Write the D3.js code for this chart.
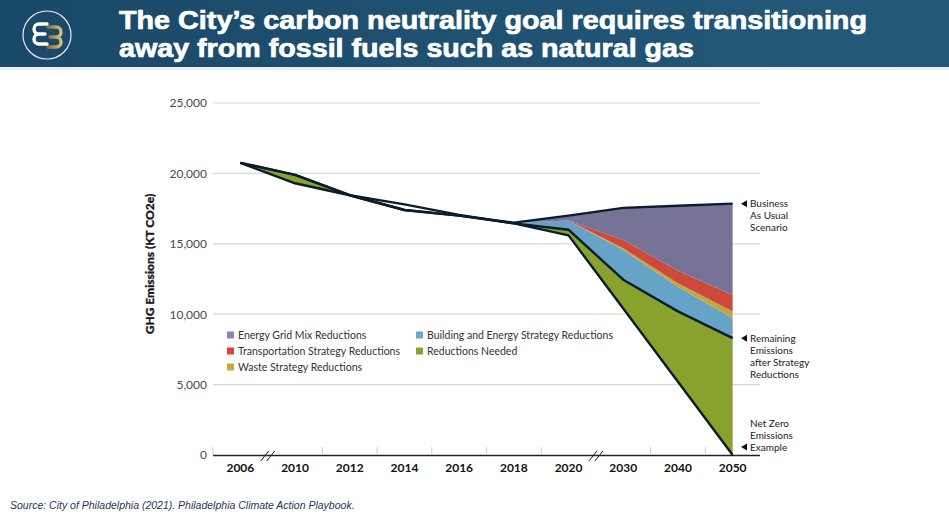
<!DOCTYPE html>
<html><head><meta charset="utf-8">
<script src="https://cdn.jsdelivr.net/npm/d3@7"></script>
<style>
html,body{margin:0;padding:0;background:#fff;}
svg{display:block;}
</style></head>
<body>
<svg id="chart" width="949" height="514"></svg>
<script>
// ---- data ----
const years = ["2006","2010","2012","2014","2016","2018","2020","2030","2040","2050"];
const remaining    = [20750, 19900, 18450, 17400, 17000, 16450, 16000, 12450, 10200, 8300];
const netZero      = [20750, 19300, 18450, 17800, 17050, 16450, 15600, 10400, 5200, 0];
const buildingRed  = [0, 0, 0, 0, 0, 50, 650, 2110, 1750, 1430];
const wasteRed     = [0, 0, 0, 0, 0, 0, 0, 120, 240, 460];
const transportRed = [0, 0, 0, 0, 0, 0, 0, 590, 900, 1180];
const gridRed      = [0, 0, 0, 0, 0, 0, 350, 2280, 4610, 6480];
const yTicks = [0, 5000, 10000, 15000, 20000, 25000];
const breakAfter = ["2006", "2020"];

const legendItems = [
  {label:"Energy Grid Mix Reductions", key:"grid"},
  {label:"Transportation Strategy Reductions", key:"transport"},
  {label:"Waste Strategy Reductions", key:"waste"},
  {label:"Building and Energy Strategy Reductions", key:"building"},
  {label:"Reductions Needed", key:"needed"}
];
const annotations = [
  {lines:["Business","As Usual","Scenario"], key:"bau"},
  {lines:["Remaining","Emissions","after Strategy","Reductions"], key:"rem"},
  {lines:["Net Zero","Emissions","Example"], key:"net", anchorLast:true}
];
const titleLines = ["The City\u2019s carbon neutrality goal requires transitioning","away from fossil fuels such as natural gas"];
const sourceText = "Source: City of Philadelphia (2021). Philadelphia Climate Action Playbook.";

const fillColors = {grid:"#767397", transport:"#cd4a3b", waste:"#c0a83c", building:"#66a3c6", needed:"#88a22e"};
const legendColors = {grid:"#8a86b9", transport:"#d8453a", waste:"#c6ab35", building:"#6ea6cf", needed:"#88a32c"};
const lineColor = "#0c1c2b";

// ---- table ----
const table = years.map((y,i)=>({year:y, remaining:remaining[i], building:buildingRed[i], waste:wasteRed[i], transport:transportRed[i], grid:gridRed[i], net:netZero[i]}));

const svg = d3.select("#chart");
const defs = svg.append("defs");

// ---- header ----
const grad = defs.append("linearGradient").attr("id","hdr").attr("x1","0").attr("x2","1");
grad.append("stop").attr("offset","0").attr("stop-color","#1a4868");
grad.append("stop").attr("offset","1").attr("stop-color","#245a7a");
svg.append("rect").attr("x",0).attr("y",0).attr("width",949).attr("height",67).attr("fill","url(#hdr)");
svg.append("rect").attr("x",0).attr("y",67).attr("width",949).attr("height",3).attr("fill","#e9eef1");

// logo
const logo = svg.append("g").attr("transform","translate(47,35)");
logo.append("circle").attr("r",24).attr("fill","none").attr("stroke","#e8ecef").attr("stroke-width",1.2);
const gg = defs.append("linearGradient").attr("id","gold").attr("x1","0").attr("x2","1");
gg.append("stop").attr("offset","0").attr("stop-color","#8a7238");
gg.append("stop").attr("offset","1").attr("stop-color","#d9bd7a");
logo.append("path").attr("d","M-3,-10 H5 A5,5 0 0 1 5,0 A5,5 0 0 1 5,10 H-3 M-1,0 H5")
  .attr("fill","none").attr("stroke","url(#gold)").attr("stroke-width",3.4).attr("stroke-linecap","round").attr("transform","translate(4,2)");
logo.append("path").attr("d","M4,-10 H-4 A5,5 0 0 0 -4,0 A5,5 0 0 0 -4,10 H4 M-4,0 H2")
  .attr("fill","none").attr("stroke","#ffffff").attr("stroke-width",3.4).attr("stroke-linecap","round").attr("transform","translate(-4,-1)");

// title
const titleG = svg.append("g");
const titleWidths = [748, 575];
titleLines.forEach((t,i)=>{
  titleG.append("text").attr("x",119).attr("y",29+i*28)
    .attr("font-family","'Liberation Sans',Arial,sans-serif")
    .attr("font-weight","bold").attr("font-size",26).attr("fill","#ffffff")
    .attr("stroke","#ffffff").attr("stroke-width",0.7)
    .attr("textLength",titleWidths[i]).attr("lengthAdjust","spacingAndGlyphs")
    .text(t);
});

// ---- scales ----
const x = d3.scaleBand().domain(years).range([213,760]).padding(0);
const xc = d => x(d) + x.bandwidth()/2;
const y = d3.scaleLinear().domain([0,25000]).range([455,103]);

const font = "Lato, 'Open Sans', sans-serif";

// gridlines
svg.append("g").selectAll("line").data(yTicks.filter(v=>v>0)).join("line")
  .attr("x1",213).attr("x2",760).attr("y1",d=>y(d)).attr("y2",d=>y(d))
  .attr("stroke","#d9d9d9").attr("stroke-width",1.2);

// y axis labels via d3 axis
const yAxis = svg.append("g").attr("transform","translate(207,0)")
  .call(d3.axisLeft(y).tickValues(yTicks).tickFormat(d3.format(",")).tickSize(0).tickPadding(0));
yAxis.select(".domain").remove();
yAxis.selectAll("text").attr("font-family",font).attr("font-size",12).attr("fill","#4a4a4a");

svg.append("text").attr("transform","translate(154,264) rotate(-90)").attr("text-anchor","middle")
  .attr("font-family",font).attr("font-weight",900).attr("font-size",12).attr("fill","#1a1a1a")
  .attr("stroke","#1a1a1a").attr("stroke-width",0.3)
  .text("GHG Emissions (KT CO2e)");

// ---- stacked areas ----
const stack = d3.stack().keys(["remaining","building","waste","transport","grid"]);
const layers = stack(table);

const area = d3.area().x(d=>xc(d.data.year)).y0(d=>y(d[0])).y1(d=>y(d[1]));
svg.append("g").selectAll("path").data(layers.slice(1)).join("path")
  .attr("d",area).attr("fill",d=>fillColors[d.key]);

// reductions needed
const needArea = d3.area().x(d=>xc(d.year)).y0(d=>y(Math.min(d.net,d.remaining))).y1(d=>y(d.remaining));
svg.append("path").datum(table).attr("d",needArea).attr("fill",fillColors.needed);

// lines
const bauLine = d3.line().x(d=>xc(d.data.year)).y(d=>y(d[1]));
const lineG = svg.append("g").attr("fill","none").attr("stroke",lineColor).attr("stroke-width",2.4).attr("stroke-linejoin","round");
lineG.append("path").datum(table).attr("d",d3.line().x(d=>xc(d.year)).y(d=>y(d.net)));
lineG.append("path").datum(table).attr("d",d3.line().x(d=>xc(d.year)).y(d=>y(d.remaining)));
lineG.append("path").datum(layers[layers.length-1]).attr("d",bauLine);

// ---- x axis ----
const xAxisG = svg.append("g");
xAxisG.append("line").attr("x1",213).attr("x2",760).attr("y1",455.5).attr("y2",455.5).attr("stroke","#222").attr("stroke-width",1.4);
const boundaries = years.map(d=>({year:d, pos:x(d)}));
xAxisG.selectAll("line.tk").data(boundaries.filter((b,i)=>!(i>0 && breakAfter.includes(years[i-1])))).join("line").attr("class","tk")
  .attr("x1",d=>d.pos).attr("x2",d=>d.pos).attr("y1",455).attr("y2",447).attr("stroke","#cfcfcf").attr("stroke-width",1);
breakAfter.forEach(b=>{
  const bx = x(b) + x.bandwidth();
  [-3,3].forEach(o=>{
    xAxisG.append("line").attr("x1",bx+o-4).attr("y1",461).attr("x2",bx+o+4).attr("y2",451).attr("stroke","#222").attr("stroke-width",1);
  });
});
xAxisG.selectAll("text").data(years).join("text")
  .attr("x",d=>xc(d)).attr("y",472).attr("text-anchor","middle")
  .attr("font-family",font).attr("font-weight","bold").attr("font-size",12).attr("fill","#111")
  .text(d=>d);

// ---- legend ----
const legendPos = [[227,335],[227,351],[227,367],[416,335],[416,351]];
const lg = svg.append("g");
legendItems.forEach((it,i)=>{
  const [lx,ly] = legendPos[i];
  lg.append("rect").attr("x",lx).attr("y",ly-3.5).attr("width",7).attr("height",7).attr("fill",legendColors[it.key]);
  lg.append("text").attr("x",lx+11).attr("y",ly+3.8).attr("font-family",font).attr("font-size",10.5).attr("fill","#333").text(it.label);
});

// ---- annotations ----
const last = table[table.length-1];
const annY = {bau: y(layers[layers.length-1][table.length-1][1]), rem: y(last.remaining), net: y(last.net)-8};
const ag = svg.append("g");
annotations.forEach(a=>{
  const ay = annY[a.key];
  const firstY = a.anchorLast ? ay - (a.lines.length-1)*12 : ay;
  ag.append("path").attr("d",`M${741},${ay} l6,-3.5 v7 z`).attr("fill","#111");
  a.lines.forEach((l,j)=>{
    ag.append("text").attr("x",750).attr("y",firstY+3.6+j*12).attr("font-family",font).attr("font-size",10)
      .attr("fill","#222").text(l);
  });
});

// ---- source ----
svg.append("text").attr("x",10).attr("y",509).attr("font-family","'Liberation Sans',Arial,sans-serif")
  .attr("font-style","italic").attr("font-size",10.5).attr("fill","#1f3556").text(sourceText);
</script>
</body></html>
